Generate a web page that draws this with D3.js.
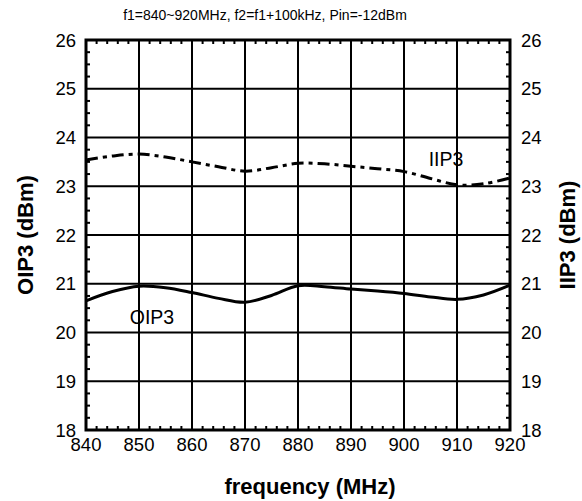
<!DOCTYPE html>
<html>
<head>
<meta charset="utf-8">
<script src="https://cdn.jsdelivr.net/npm/d3@7"></script>
<style>
  body { margin: 0; background: #fff; }
  text { font-family: "Liberation Sans", Arial, sans-serif; fill: #000; }
</style>
</head>
<body>
<div id="container"></div>
<script>
// frequency points (MHz)
var freq = [840, 845, 850, 855, 860, 865, 870, 875, 880, 885, 890, 895, 900, 905, 910, 915, 920];
// IIP3 (dBm), dash-dot curve
var iip3 = [23.54, 23.62, 23.66, 23.60, 23.50, 23.40, 23.31, 23.38, 23.47, 23.46, 23.41, 23.36, 23.30, 23.16, 23.03, 23.05, 23.17];
// OIP3 (dBm), solid curve
var oip3 = [20.65, 20.84, 20.95, 20.92, 20.82, 20.70, 20.62, 20.76, 20.96, 20.94, 20.89, 20.85, 20.80, 20.73, 20.68, 20.77, 20.97];

var xTicks = [840, 850, 860, 870, 880, 890, 900, 910, 920];
var yTicks = [18, 19, 20, 21, 22, 23, 24, 25, 26];

var W = 582, H = 501;
var plotL = 86, plotR = 510, plotT = 40, plotB = 430;

var svg = d3.select("#container").append("svg")
    .attr("width", W)
    .attr("height", H);

var x = d3.scaleLinear().domain([840, 920]).range([plotL, plotR]);
var y = d3.scaleLinear().domain([18, 26]).range([plotB, plotT]);

// grid lines
var g = svg.append("g");
g.selectAll(".vgrid").data(xTicks.slice(1, -1)).enter().append("line")
    .attr("x1", d => x(d)).attr("x2", d => x(d))
    .attr("y1", plotT).attr("y2", plotB)
    .attr("stroke", "#000").attr("stroke-width", 2);
g.selectAll(".hgrid").data(yTicks.slice(1, -1)).enter().append("line")
    .attr("x1", plotL).attr("x2", plotR)
    .attr("y1", d => y(d)).attr("y2", d => y(d))
    .attr("stroke", "#000").attr("stroke-width", 2);

// minor ticks, pointing inward on every side
var xMinor = d3.range(840, 920.1, 2).filter(d => d % 10 != 0);
var yMinor = d3.range(18, 26.01, 0.25).filter(d => Math.abs(d - Math.round(d)) > 0.01);
var tk = 4;
g.selectAll(".xmb").data(xMinor).enter().append("line")
    .attr("x1", d => x(d)).attr("x2", d => x(d))
    .attr("y1", plotB).attr("y2", plotB - tk)
    .attr("stroke", "#000").attr("stroke-width", 2);
g.selectAll(".xmt").data(xMinor).enter().append("line")
    .attr("x1", d => x(d)).attr("x2", d => x(d))
    .attr("y1", plotT).attr("y2", plotT + tk)
    .attr("stroke", "#000").attr("stroke-width", 2);
g.selectAll(".yml").data(yMinor).enter().append("line")
    .attr("x1", plotL).attr("x2", plotL + tk)
    .attr("y1", d => y(d)).attr("y2", d => y(d))
    .attr("stroke", "#000").attr("stroke-width", 2);
g.selectAll(".ymr").data(yMinor).enter().append("line")
    .attr("x1", plotR).attr("x2", plotR - tk)
    .attr("y1", d => y(d)).attr("y2", d => y(d))
    .attr("stroke", "#000").attr("stroke-width", 2);

// frame
svg.append("rect")
    .attr("x", plotL).attr("y", plotT)
    .attr("width", plotR - plotL).attr("height", plotB - plotT)
    .attr("fill", "none").attr("stroke", "#000").attr("stroke-width", 3);

// curves
var line = d3.line()
    .x(d => x(d[0]))
    .y(d => y(d[1]))
    .curve(d3.curveCatmullRom.alpha(0.5));

svg.append("path")
    .datum(d3.zip(freq, iip3))
    .attr("d", line)
    .attr("fill", "none").attr("stroke", "#000").attr("stroke-width", 3)
    .attr("stroke-dasharray", "12,5,4,5");

svg.append("path")
    .datum(d3.zip(freq, oip3))
    .attr("d", line)
    .attr("fill", "none").attr("stroke", "#000").attr("stroke-width", 3);

// tick labels
svg.selectAll(".xl").data(xTicks).enter().append("text")
    .attr("x", d => x(d)).attr("y", 451)
    .attr("text-anchor", "middle").style("font-size", "18.5px")
    .text(d => d);
svg.selectAll(".yl").data(yTicks).enter().append("text")
    .attr("x", 76).attr("y", d => y(d) + 6.5)
    .attr("text-anchor", "end").style("font-size", "18.5px")
    .text(d => d);
svg.selectAll(".yr").data(yTicks).enter().append("text")
    .attr("x", 521).attr("y", d => y(d) + 6.5)
    .attr("text-anchor", "start").style("font-size", "18.5px")
    .text(d => d);

// series labels
svg.append("text").attr("x", 446).attr("y", 166)
    .attr("text-anchor", "middle").style("font-size", "19.5px").text("IIP3");
svg.append("text").attr("x", 152).attr("y", 324)
    .attr("text-anchor", "middle").style("font-size", "19.5px").text("OIP3");

// titles
svg.append("text").attr("x", 265).attr("y", 20)
    .attr("text-anchor", "middle").style("font-size", "14px")
    .text("f1=840~920MHz, f2=f1+100kHz, Pin=-12dBm");
svg.append("text").attr("x", 310).attr("y", 494)
    .attr("text-anchor", "middle").style("font-size", "22px").style("font-weight", "bold")
    .text("frequency (MHz)");
svg.append("text")
    .attr("transform", "translate(33," + ((plotT + plotB) / 2) + ") rotate(-90)")
    .attr("text-anchor", "middle").style("font-size", "22px").style("font-weight", "bold")
    .text("OIP3 (dBm)");
svg.append("text")
    .attr("transform", "translate(575," + ((plotT + plotB) / 2) + ") rotate(-90)")
    .attr("text-anchor", "middle").style("font-size", "22px").style("font-weight", "bold")
    .text("IIP3 (dBm)");
</script>
</body>
</html>
